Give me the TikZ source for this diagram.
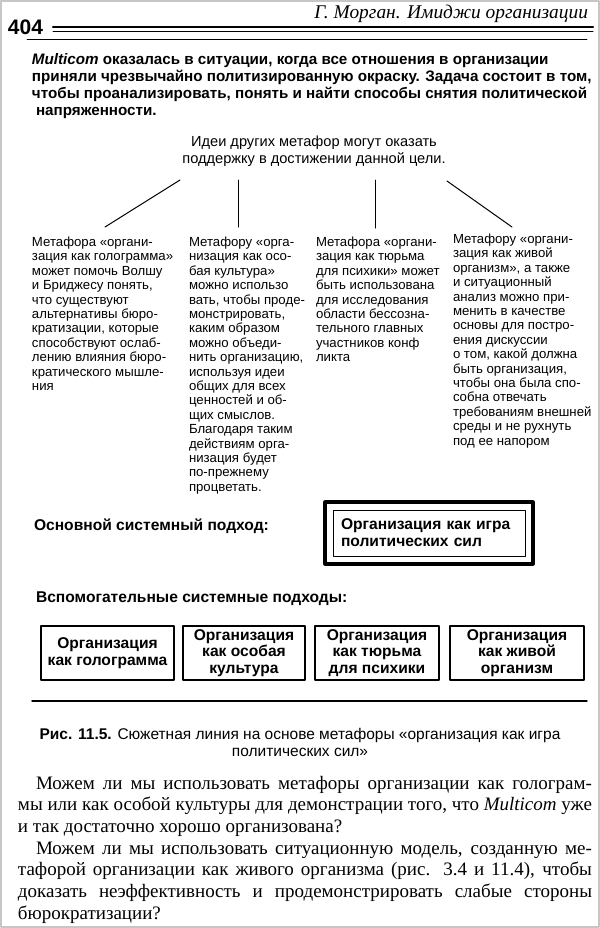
\documentclass[tikz,border=0pt]{standalone}
\usepackage{fontspec}
\setmainfont{Liberation Serif}
\newfontfamily\dsans{Liberation Sans}

\begin{document}
\begin{tikzpicture}[
		x=0.5pt,
		y=-0.5pt,
		line cap=round,
		line join=round,
		every node/.style={inner sep=0pt, outer sep=0pt},
		lead/.style={font=\dsans\bfseries\fontsize{7.6}{8.5}\selectfont, anchor=north west, align=left},
		column/.style={font=\dsans\fontsize{6.6}{7.2}\selectfont, anchor=north west, align=left},
		heading/.style={font=\dsans\bfseries\fontsize{7.8}{9}\selectfont, anchor=west},
		approach/.style={draw, line width=0.6pt, font=\dsans\bfseries\fontsize{7.8}{8.4}\selectfont, align=center, minimum height=27pt},
		bodyline/.style={font=\fontsize{9.5}{10.8}\selectfont, anchor=base west}
		]
		% Page frame
		\useasboundingbox (0,0) rectangle (600,928);
		\fill[white] (0,0) rectangle (600,928);
		\draw[gray!45, line width=1.2pt] (1,1) rectangle (599,927);
		
		% Running head with the double rule
		\node[anchor=base west, font=\dsans\bfseries\fontsize{10.5}{12}\selectfont] (pagenum) at (8,34) {404};
		\node[anchor=base east, font=\itshape\fontsize{9.7}{12}\selectfont] (runhead) at (588,18) {Г. Морган. Имиджи организации};
		\draw[line width=1.1pt] (53,27) -- (593,27);
		\draw[line width=0.5pt] (53,31) -- (593,31);
		\draw[line width=0.4pt] (27,39) -- (587,39);
		
		% Task statement
		\node[lead] (intro) at (32,53) {\textit{Multicom} оказалась в ситуации, когда все отношения в организации\\
			приняли чрезвычайно политизированную окраску. Задача состоит в том,\\
			чтобы проанализировать, понять и найти способы снятия политической\\
			\hspace{2pt}напряженности.};
		
		% Ideas of the other metaphors
		\node[font=\dsans\fontsize{7.3}{8.5}\selectfont, align=center, anchor=north] (ideas) at (314,136)
		{Идеи других метафор могут оказать\\поддержку в достижении данной цели.};
		
		\coordinate (holotop) at (180,180);
		\coordinate (holoend) at (105,227);
		\coordinate (culturetop) at (238,180);
		\coordinate (cultureend) at (238,227);
		\coordinate (prisontop) at (375,180);
		\coordinate (prisonend) at (375,228);
		\coordinate (organismtop) at (447,181);
		\coordinate (organismend) at (512,227);
		\foreach \m in {holo,culture,prison,organism}
		{
			\draw[line width=0.5pt] (\m top) -- (\m end);
		}
		
		% Four columns of text
		\node[column] (holo) at (32,237) {Метафора «органи-\\
			зация как голограмма»\\
			может помочь Волшу\\
			и Бриджесу понять,\\
			что существуют\\
			альтернативы бюро-\\
			кратизации, которые\\
			способствуют ослаб-\\
			лению влияния бюро-\\
			кратического мышле-\\
			ния};
		\node[column] (culture) at (189,237) {Метафору «орга-\\
			низация как осо-\\
			бая культура»\\
			можно использо\\
			вать, чтобы проде-\\
			монстрировать,\\
			каким образом\\
			можно объеди-\\
			нить организацию,\\
			используя идеи\\
			общих для всех\\
			ценностей и об-\\
			щих смыслов.\\
			Благодаря таким\\
			действиям орга-\\
			низация будет\\
			по-прежнему\\
			процветать.};
		\node[column] (prison) at (316,237) {Метафора «органи-\\
			зация как тюрьма\\
			для психики» может\\
			быть использована\\
			для исследования\\
			области бессозна-\\
			тельного главных\\
			участников конф\\
			ликта};
		\node[column] (organism) at (453,234) {Метафору «органи-\\
			зация как живой\\
			организм», а также\\
			и ситуационный\\
			анализ можно при-\\
			менить в качестве\\
			основы для постро-\\
			ения дискуссии\\
			о том, какой должна\\
			быть организация,\\
			чтобы она была спо-\\
			собна отвечать\\
			требованиям внешней\\
			среды и не рухнуть\\
			под ее напором};
		
		% Main approach
		\node[heading] (mainlbl) at (34,526) {Основной системный подход:};
		\node[draw, line width=1.6pt, minimum width=104pt, minimum height=31pt] (mainbox) at (429,533) {};
		\node[draw, line width=0.5pt, minimum width=96pt, minimum height=23pt, text width=88pt, inner xsep=4pt,
		align=left, font=\dsans\bfseries\fontsize{7.8}{8.6}\selectfont] (maintext) at (mainbox.center)
		{Организация как игра\\политических сил};
		
		% Auxiliary approaches
		\node[heading] (auxlbl) at (36,599) {Вспомогательные системные подходы:};
		\node[approach, minimum width=66.5pt] (holobox) at (107.5,653) {Организация\\как голограмма};
		\node[approach, minimum width=61pt] (culturebox) at (244,653) {Организация\\как особая\\культура};
		\node[approach, minimum width=62pt] (prisonbox) at (377,653) {Организация\\как тюрьма\\для психики};
		\node[approach, minimum width=67pt] (organismbox) at (517,653) {Организация\\как живой\\организм};
		\draw[line width=0.7pt] (32,701) -- (587,701);
		
		% Caption
		\node[font=\dsans\fontsize{7.75}{8.8}\selectfont, align=center, anchor=north] (caption) at (300,728)
		{\textbf{Рис. 11.5.} Сюжетная линия на основе метафоры «организация как игра\\политических сил»};
		
		% Body text below the figure
		\node[bodyline] (para1a) at (36,789) {\makebox[278pt][s]{Можем ли мы использовать метафоры организации как голограм-}};
		\node[bodyline] (para1b) at (18,810.7) {\makebox[287pt][s]{мы или как особой культуры для демонстрации того, что \textit{Multicom} уже}};
		\node[bodyline] (para1c) at (18,832.3) {и так достаточно хорошо организована?};
		\node[bodyline] (para2a) at (36,854) {\makebox[278pt][s]{Можем ли мы использовать ситуационную модель, созданную ме-}};
		\node[bodyline] (para2b) at (18,875.7) {\makebox[287pt][s]{тафорой организации как живого организма (рис. 3.4 и 11.4), чтобы}};
		\node[bodyline] (para2c) at (18,897.3) {\makebox[287pt][s]{доказать неэффективность и продемонстрировать слабые стороны}};
		\node[bodyline] (para2d) at (18,919) {бюрократизации?};
\end{tikzpicture}
\end{document}
